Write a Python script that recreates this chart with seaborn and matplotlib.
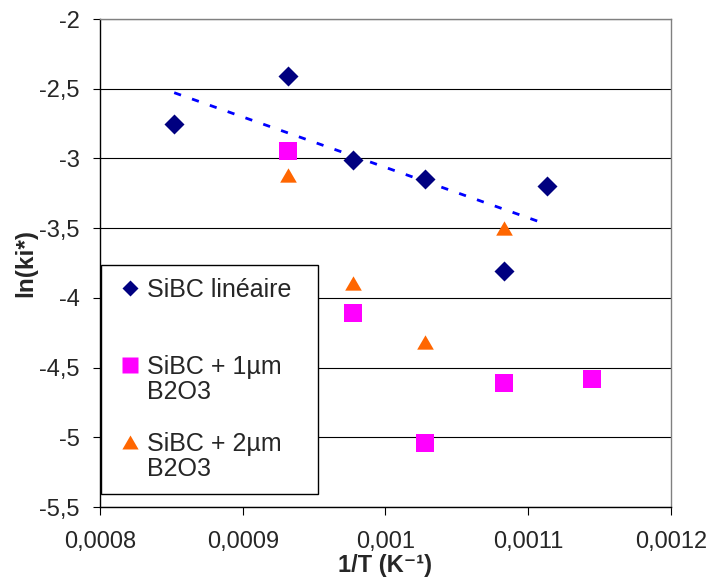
import matplotlib
matplotlib.use("Agg")
import matplotlib.pyplot as plt
from matplotlib.lines import Line2D
import seaborn as sns

# values
x_lin = [0.000852, 0.000932, 0.000977, 0.001028, 0.001083, 0.001113]
y_lin = [-2.75, -2.41, -3.01, -3.15, -3.81, -3.20]

x_1um = [0.000932, 0.000977, 0.001028, 0.001083, 0.001145]
y_1um = [-2.95, -4.11, -5.04, -4.61, -4.58]

x_2um = [0.000932, 0.000977, 0.001028, 0.001083]
y_2um = [-3.12, -3.89, -4.32, -3.50]

series_names = ["SiBC linéaire", "SiBC + 1µm\nB2O3", "SiBC + 2µm\nB2O3"]

xticks = [0.0008, 0.0009, 0.001, 0.0011, 0.0012]
xtick_labels = ["0,0008", "0,0009", "0,001", "0,0011", "0,0012"]
yticks = [-5.5, -5, -4.5, -4, -3.5, -3, -2.5, -2]
ytick_labels = ["-5,5", "-5", "-4,5", "-4", "-3,5", "-3", "-2,5", "-2"]

navy = "#000080"
magenta = "#FF00FF"
orange = "#FF6600"
tri = [(0, 0.86), (-1, -0.86), (1, -0.86)]

sns.set_style("white")
plt.rcParams["font.family"] = ["Liberation Sans", "DejaVu Sans"]

fig = plt.figure(figsize=(7.12, 5.78), dpi=100)
ax = fig.add_axes([0.1404, 0.1228, 0.8020, 0.8443])
ax.set_axisbelow(True)

# points
sns.scatterplot(x=x_lin, y=y_lin, marker="D", s=104, color=navy,
                linewidth=0, legend=False, ax=ax, zorder=3)
sns.scatterplot(x=x_1um, y=y_1um, marker="s", s=169, color=magenta,
                linewidth=0, legend=False, ax=ax, zorder=3)
sns.scatterplot(x=x_2um, y=y_2um, marker=tri, s=144, color=orange,
                linewidth=0, legend=False, ax=ax, zorder=3)

# linear trend of the first series
sns.regplot(x=x_lin, y=y_lin, scatter=False, ci=None, color="#0000FF", ax=ax,
            line_kws=dict(lw=2, ls=(0, (2.6, 4.2)), zorder=2))

ax.set_xlim(0.0008, 0.0012)
ax.set_ylim(-5.5, -2)
ax.set_xticks(xticks)
ax.set_xticklabels(xtick_labels)
ax.set_yticks(yticks)
ax.set_yticklabels(ytick_labels)

ax.yaxis.grid(True, color="black", lw=0.8)
ax.xaxis.grid(False)
for side in ["left", "bottom"]:
    ax.spines[side].set_color("black")
    ax.spines[side].set_linewidth(1.0)
for side in ["top", "right"]:
    ax.spines[side].set_color("#808080")
    ax.spines[side].set_linewidth(1.0)

ax.tick_params(axis="both", direction="out", length=5.4, width=0.8,
               color="black", labelsize=17, bottom=True, left=True)
ax.tick_params(axis="x", pad=12)
ax.tick_params(axis="y", pad=9)

ax.set_xlabel("1/T (K⁻¹)", fontsize=17, fontweight="bold", va="center")
ax.xaxis.set_label_coords(0.5, -0.119)
ax.set_ylabel("ln(ki*)", fontsize=17.5, fontweight="bold", va="center")
ax.yaxis.set_label_coords(-0.13, 0.5)

# legend: marker sits on the first line of each label
blank = Line2D([], [], ls="none")
handles = [
    Line2D([], [], ls="none", marker="D", markersize=8.2, color=navy, mec="none"),
    blank, blank,
    Line2D([], [], ls="none", marker="s", markersize=11.7, color=magenta, mec="none"),
    blank, blank,
    Line2D([], [], ls="none", marker=tri, markersize=11.7, color=orange, mec="none"),
    blank,
]
l1 = series_names[1].split("\n")
l2 = series_names[2].split("\n")
labels = [series_names[0], " ", " ", l1[0], l1[1], " ", l2[0], l2[1]]
leg = ax.legend(handles, labels, loc="lower left",
                bbox_to_anchor=(0.0015, 0.027, 0.38, 0.46), mode="expand",
                borderaxespad=0, frameon=True, fancybox=False, edgecolor="black",
                framealpha=1, fontsize=18, handlelength=1.3, handletextpad=0.05,
                borderpad=0.5, labelspacing=0.065)
leg.get_frame().set_linewidth(1.0)

plt.savefig("out.png", dpi=100)
